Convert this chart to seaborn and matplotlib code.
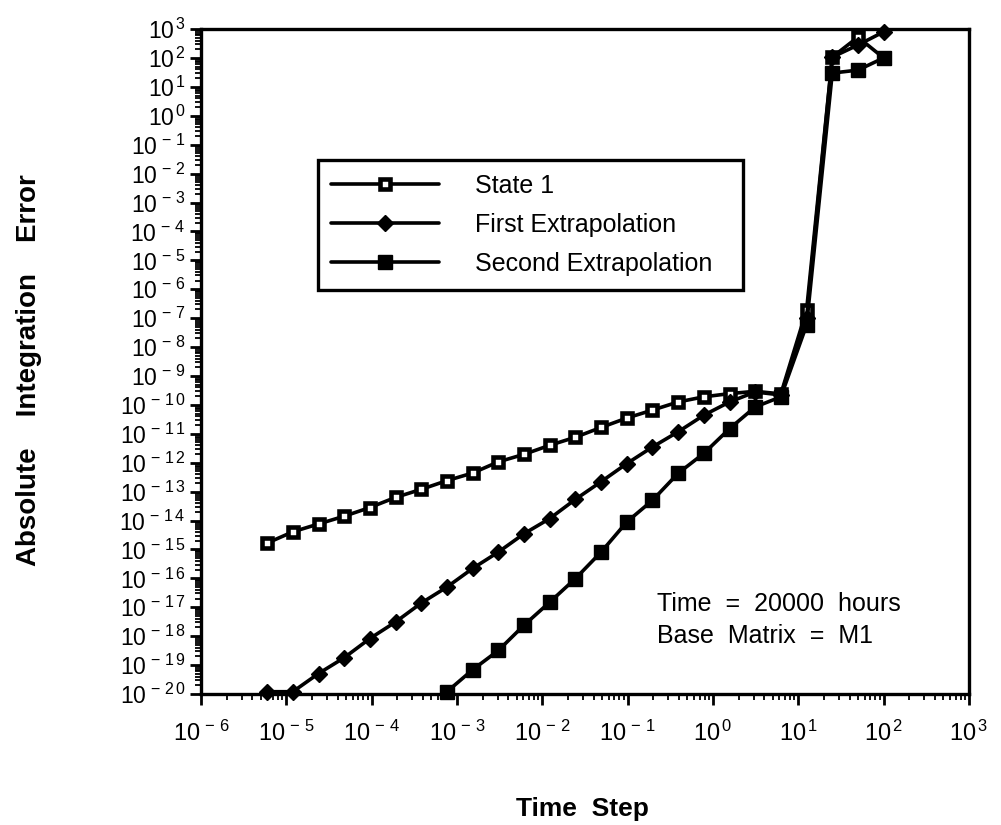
import numpy as np
import pandas as pd
import matplotlib
matplotlib.use("Agg")
import matplotlib.pyplot as plt
import matplotlib.ticker as mticker
import seaborn as sns

# Time steps (hours), halving from 100 down to ~6e-6
time_step = [5.960e-06, 1.192e-05, 2.384e-05, 4.768e-05, 9.537e-05, 1.907e-04,
             3.815e-04, 7.629e-04, 1.526e-03, 3.052e-03, 6.104e-03, 1.221e-02,
             2.441e-02, 4.883e-02, 9.766e-02, 1.953e-01, 3.906e-01, 7.813e-01,
             1.5625, 3.125, 6.25, 12.5, 25.0, 50.0, 100.0]

state_1 = [1.66e-15, 4.07e-15, 7.6e-15, 1.41e-14, 2.82e-14, 6.3e-14,
           1.2e-13, 2.4e-13, 4.4e-13, 1.07e-12, 1.95e-12, 4.0e-12,
           7.6e-12, 1.66e-11, 3.5e-11, 6.6e-11, 1.26e-10, 1.9e-10,
           2.45e-10, 2.95e-10, 2.4e-10, 1.9e-07, 107.0, 525.0, 100.0]

first_extrap = [1.2e-20, 1.2e-20, 5.1e-20, 1.8e-19, 8.3e-19, 3.1e-18,
                1.4e-17, 5.0e-17, 2.2e-16, 8.1e-16, 3.5e-15, 1.17e-14,
                5.4e-14, 2.2e-13, 9.3e-13, 3.5e-12, 1.17e-11, 4.4e-11,
                1.26e-10, 2.8e-10, 2.2e-10, 1.0e-07, 107.0, 280.0, 800.0]

# Second extrapolation is only shown from 7.6e-4 upward
second_step = time_step[7:]
second_extrap = [1.2e-20, 6.9e-20, 3.2e-19, 2.4e-18, 1.5e-17, 9.8e-17,
                 8.1e-16, 8.9e-15, 5.0e-14, 4.3e-13, 2.1e-12, 1.5e-11,
                 8.5e-11, 1.9e-10, 5.8e-08, 30.0, 38.0, 100.0]

series_names = ["State 1", "First Extrapolation", "Second Extrapolation"]

x_range = (1e-6, 1e3)
y_range = (1e-20, 1e3)

df = pd.concat([
    pd.DataFrame({"step": time_step, "error": state_1, "series": series_names[0]}),
    pd.DataFrame({"step": time_step, "error": first_extrap, "series": series_names[1]}),
    pd.DataFrame({"step": second_step, "error": second_extrap, "series": series_names[2]}),
])

sns.set_theme(style="white")
plt.rcParams["font.family"] = ["Liberation Sans", "DejaVu Sans"]
plt.rcParams["mathtext.fontset"] = "custom"
plt.rcParams["mathtext.rm"] = "Liberation Sans"
plt.rcParams["mathtext.it"] = "Liberation Sans"
plt.rcParams["mathtext.bf"] = "Liberation Sans:bold"

fig = plt.figure(figsize=(10.01, 8.25), dpi=100)
ax = fig.add_axes([0.2008, 0.1588, 0.7672, 0.8060])
ax.set(xscale="log", yscale="log")

marker_styles = {
    "State 1": dict(marker="s", markersize=6.8, markerfacecolor="white",
                    markeredgecolor="black", markeredgewidth=3.3),
    "First Extrapolation": dict(marker="D", markersize=8.5, markerfacecolor="black",
                                markeredgecolor="black", markeredgewidth=1),
    "Second Extrapolation": dict(marker="s", markersize=9.5, markerfacecolor="black",
                                 markeredgecolor="black", markeredgewidth=1),
}

for name in series_names:
    sub = df[df["series"] == name]
    sns.lineplot(data=sub, x="step", y="error", ax=ax, color="black",
                 linewidth=2.6, label=name, clip_on=False, zorder=3,
                 **marker_styles[name])

ax.set_xlim(*x_range)
ax.set_ylim(*y_range)


def make_pow_fmt(lo, hi):
    def pow_fmt(v, pos):
        if v < lo * 0.999 or v > hi * 1.001:
            return ""
        e = int(round(np.log10(v)))
        expo = r"\,".join(str(e))
        return r"$\mathregular{10^{\,%s}}$" % expo
    return pow_fmt


ax.xaxis.set_major_locator(mticker.LogLocator(base=10, numticks=20))
ax.xaxis.set_minor_locator(mticker.LogLocator(base=10, subs=np.arange(2, 10), numticks=200))
ax.yaxis.set_major_locator(mticker.LogLocator(base=10, numticks=40))
ax.yaxis.set_minor_locator(mticker.LogLocator(base=10, subs=np.arange(2, 10), numticks=400))
ax.xaxis.set_major_formatter(mticker.FuncFormatter(make_pow_fmt(*x_range)))
ax.yaxis.set_major_formatter(mticker.FuncFormatter(make_pow_fmt(*y_range)))
ax.xaxis.set_minor_formatter(mticker.NullFormatter())
ax.yaxis.set_minor_formatter(mticker.NullFormatter())

ax.tick_params(axis="both", which="major", direction="out", length=8, width=2,
               color="black", labelsize=17, labelcolor="black", pad=3,
               bottom=True, left=True, top=False, right=False)
ax.tick_params(axis="x", which="major", pad=11)
ax.tick_params(axis="y", which="major", labelsize=16.5)
ax.tick_params(axis="both", which="minor", direction="out", length=4, width=1.3,
               color="black", bottom=True, left=True, top=False, right=False)

for sp in ax.spines.values():
    sp.set_visible(True)
    sp.set_color("black")
    sp.set_linewidth(2.4)

ax.set_xlabel("Time  Step", fontsize=19, fontweight="bold", color="black")
ax.set_ylabel("Absolute    Integration    Error", fontsize=20, fontweight="bold",
              color="black")
ax.xaxis.set_label_coords(0.497, -0.155)
ax.yaxis.set_label_coords(-0.207, 0.487)

leg = ax.legend(loc="upper left", bbox_to_anchor=(0.152, 0.595, 0.554, 0.208),
                mode="expand", fontsize=18, frameon=True, fancybox=False,
                framealpha=1, handlelength=4.3, handletextpad=1.45,
                labelspacing=0.6, borderpad=0.55, borderaxespad=0)
leg.get_frame().set_edgecolor("black")
leg.get_frame().set_linewidth(2.4)
for t in leg.get_texts():
    t.set_color("black")

ax.text(0.594, 0.135, "Time  =  20000  hours", transform=ax.transAxes,
        fontsize=18, color="black", va="center", ha="left")
ax.text(0.594, 0.087, "Base  Matrix  =  M1", transform=ax.transAxes,
        fontsize=18, color="black", va="center", ha="left")

fig.savefig("out.png", dpi=100, facecolor="white")
